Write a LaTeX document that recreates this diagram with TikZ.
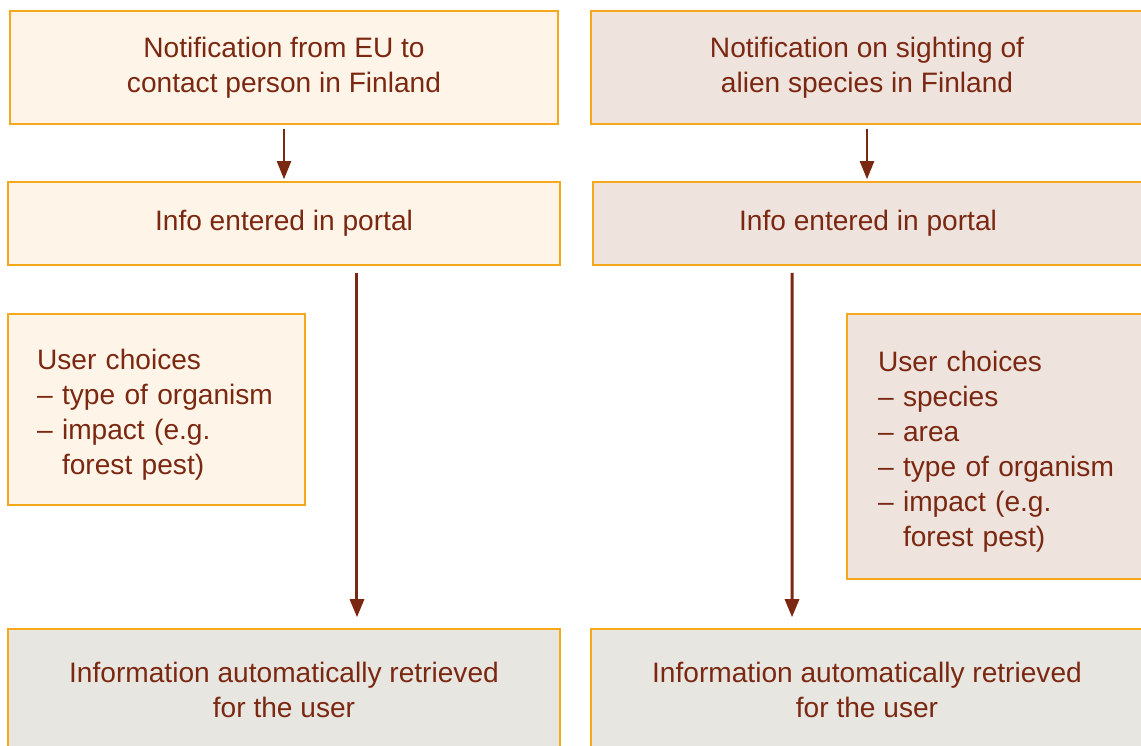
\documentclass[tikz,border=0pt]{standalone}
\usepackage{fontspec}
\setmainfont{Liberation Sans}
\usetikzlibrary{arrows.meta}
\definecolor{boxline}{HTML}{F5A81C}
\definecolor{creamfill}{HTML}{FEF4E7}
\definecolor{rosefill}{HTML}{EEE3DD}
\definecolor{greyfill}{HTML}{E8E6E1}
\definecolor{brownink}{HTML}{7B2812}
\tikzset{
  flowbox/.style={draw=boxline, line width=0.9pt, inner sep=0pt, align=center,
    text=brownink, font=\fontsize{16}{20}\selectfont},
  listbox/.style={flowbox, align=left},
  arr/.style={draw=brownink, line width=1.7pt, -{Triangle[width=0.28cm,length=0.36cm]}},
  shortarr/.style={arr, line width=1.25pt}
}
\begin{document}
\begin{tikzpicture}[x=0.02cm,y=-0.02cm]
    \useasboundingbox (0,0) rectangle (1141,745);
    \clip (0,0) rectangle (1141,745);
    % top row
    \node (notifEU) [flowbox, fill=creamfill, minimum width=10.96cm, minimum height=2.26cm] at (284,67.5)
        {Notification from EU to\\contact person in Finland};
    \node (notifSight) [flowbox, fill=rosefill, minimum width=11.04cm, minimum height=2.26cm] at (867,67.5)
        {Notification on sighting of\\alien species in Finland};
    % portal
    \node (portalA) [flowbox, fill=creamfill, minimum width=11.04cm, minimum height=1.66cm] at (284,223.5)
        {Info entered in portal};
    \node (portalB) [flowbox, fill=rosefill, minimum width=11.0cm, minimum height=1.66cm] at (868,223.5)
        {Info entered in portal};
    % user choices
    \node (choicesA) [listbox, fill=creamfill, text width=4.78cm, minimum width=5.94cm, minimum height=3.82cm] at (156.5,409.5)
        {\rule{0pt}{17.5pt}User choices\\– type of organism\\– impact (e.g.\\\phantom{– }forest pest)};
    \node (choicesB) [listbox, fill=rosefill, text width=4.82cm, minimum width=6.06cm, minimum height=5.3cm] at (998.5,446.5)
        {\rule{0pt}{17.5pt}User choices\\– species\\– area\\– type of organism\\– impact (e.g.\\\phantom{– }forest pest)};
    % result
    \node (retrA) [flowbox, fill=greyfill, minimum width=11.04cm, minimum height=2.44cm] at (284,690)
        {Information automatically retrieved\\for the user};
    \node (retrB) [flowbox, fill=greyfill, minimum width=11.04cm, minimum height=2.44cm] at (867,690)
        {Information automatically retrieved\\for the user};
    % arrows
    \draw[shortarr] ([yshift=-0.08cm]notifEU.south) -- ([yshift=0.04cm]portalA.north);
    \draw[shortarr] ([yshift=-0.08cm]notifSight.south) -- ([xshift=-0.02cm,yshift=0.04cm]portalB.north);
    \draw[arr] ([xshift=1.46cm,yshift=-0.14cm]portalA.south) -- ([xshift=1.46cm,yshift=0.22cm]retrA.north);
    \draw[arr] ([xshift=-1.52cm,yshift=-0.14cm]portalB.south) -- ([xshift=-1.5cm,yshift=0.22cm]retrB.north);
\end{tikzpicture}
\end{document}
